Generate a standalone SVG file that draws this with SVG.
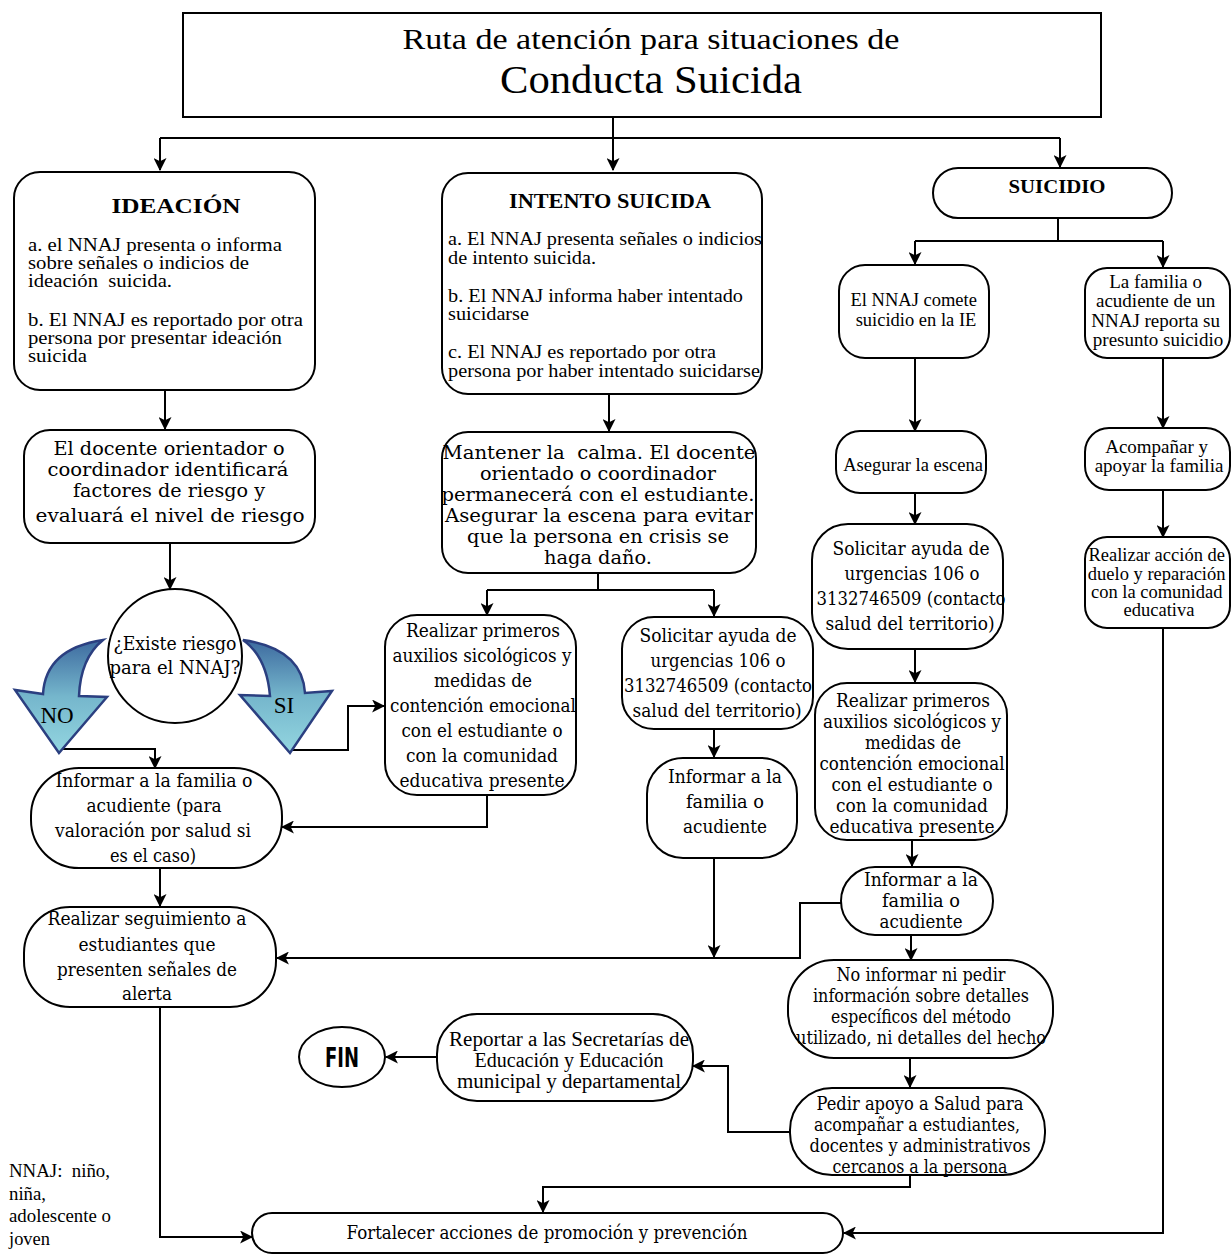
<svg xmlns="http://www.w3.org/2000/svg" width="1231" height="1254" viewBox="0 0 1231 1254">
<style>
.bx{fill:#fff;stroke:#000;stroke-width:2}
.c{fill:none;stroke:#000;stroke-width:2}
.a{marker-end:url(#ah)}
.t{font-family:"Liberation Serif",serif;fill:#000}
.s{font-size:18px}
.d{font-family:"DejaVu Serif","Liberation Serif",serif;fill:#000;font-size:18px}
.m{text-anchor:middle}
.b{font-weight:bold}
</style>
<defs>
<marker id="ah" viewBox="0 0 12 12" refX="11" refY="6" markerWidth="13" markerHeight="13" markerUnits="userSpaceOnUse" orient="auto">
<path d="M0,0 L12,6 L0,12 L3,6 Z" fill="#000"/>
</marker>
<linearGradient id="blue" x1="0" y1="0" x2="0" y2="1">
<stop offset="0" stop-color="#3d6a9f"/>
<stop offset="0.5" stop-color="#75b6cc"/>
<stop offset="1" stop-color="#93d6e0"/>
</linearGradient>
</defs>
<rect width="1231" height="1254" fill="#fff"/>

<g id="connectors">
<path class="c a" d="M613,117 V170"/>
<path class="c" d="M160,138 H1060"/>
<path class="c a" d="M160,138 V170"/>
<path class="c a" d="M1060,138 V167"/>
<path class="c a" d="M165,390 V429"/>
<path class="c a" d="M170,543 V589"/>
<path class="c a" d="M60,749 H155 V768"/>
<path class="c a" d="M290,750 H348 V706 H384"/>
<path class="c a" d="M160,868 V906"/>
<path class="c a" d="M160,1007 V1237 H252"/>
<path class="c a" d="M609,395 V431"/>
<path class="c" d="M598,573 V590 M487,590 H714"/>
<path class="c a" d="M487,590 V615"/>
<path class="c a" d="M714,590 V616"/>
<path class="c a" d="M487,795 V827 H282"/>
<path class="c a" d="M714,729 V757"/>
<path class="c a" d="M714,858 V957"/>
<path class="c a" d="M841,903 H800 V958 H277"/>
<path class="c" d="M1058,218 V241 M915,241 H1163"/>
<path class="c a" d="M915,241 V264"/>
<path class="c a" d="M1163,241 V267"/>
<path class="c a" d="M915,358 V431"/>
<path class="c a" d="M1163,358 V428"/>
<path class="c a" d="M915,493 V524"/>
<path class="c a" d="M1163,490 V537"/>
<path class="c a" d="M1163,628 V1233 H844"/>
<path class="c a" d="M915,649 V682"/>
<path class="c a" d="M912,840 V866"/>
<path class="c a" d="M911,935 V960"/>
<path class="c a" d="M910,1058 V1087"/>
<path class="c a" d="M790,1132 H728 V1066 H693"/>
<path class="c a" d="M910,1175 V1187 H543 V1212"/>
<path class="c a" d="M437,1057 H386"/>
</g>

<g id="title">
<rect class="bx" x="183" y="13" width="918" height="104"/>
<text class="t m" x="651" y="49" font-size="30" textLength="497" lengthAdjust="spacingAndGlyphs">Ruta de atención para situaciones de</text>
<text class="t m" x="651" y="93" font-size="41" textLength="302" lengthAdjust="spacingAndGlyphs">Conducta Suicida</text>
</g>

<g id="ideacion">
<rect class="bx" x="14" y="172" width="301" height="218" rx="26"/>
<text class="t m b" x="176" y="213" font-size="22" textLength="129" lengthAdjust="spacingAndGlyphs">IDEACIÓN</text>
<text class="t s" x="28" y="251" textLength="254" lengthAdjust="spacingAndGlyphs">a. el NNAJ presenta o informa</text>
<text class="t s" x="28" y="269" textLength="221" lengthAdjust="spacingAndGlyphs">sobre señales o indicios de</text>
<text class="t s" x="28" y="287" textLength="144" lengthAdjust="spacingAndGlyphs" xml:space="preserve">ideación  suicida.</text>
<text class="t s" x="28" y="326" textLength="275" lengthAdjust="spacingAndGlyphs">b. El NNAJ es reportado por otra</text>
<text class="t s" x="28" y="344" textLength="254" lengthAdjust="spacingAndGlyphs">persona por presentar ideación</text>
<text class="t s" x="28" y="362" textLength="59" lengthAdjust="spacingAndGlyphs">suicida</text>
</g>

<g id="docente">
<rect class="bx" x="24" y="430" width="291" height="113" rx="26"/>
<text class="d m" x="169" y="455" textLength="231" lengthAdjust="spacingAndGlyphs">El docente orientador o</text>
<text class="d m" x="168" y="476" textLength="241" lengthAdjust="spacingAndGlyphs">coordinador identificará</text>
<text class="d m" x="169" y="497" textLength="192" lengthAdjust="spacingAndGlyphs">factores de riesgo y</text>
<text class="d m" x="170" y="522" textLength="269" lengthAdjust="spacingAndGlyphs">evaluará el nivel de riesgo</text>
</g>

<g id="riesgo">
<circle class="bx" cx="175" cy="656" r="67"/>
<text class="d m" x="175" y="650" textLength="123" lengthAdjust="spacingAndGlyphs">¿Existe riesgo</text>
<text class="d m" x="175" y="674" textLength="131" lengthAdjust="spacingAndGlyphs">para el NNAJ?</text>
</g>

<g id="no">
<path d="M103,640 C70,645 45,660 43,694 L15,690 L59,753 L107,697 L79,696 C80,672 88,652 103,640 Z" fill="url(#blue)" stroke="#2b3f80" stroke-width="2.5"/>
<text class="t m" x="57" y="723" font-size="23">NO</text>
</g>

<g id="si">
<path d="M243,640 C278,645 303,660 305,693 L332,691 L290,753 L240,695 L270,696 C268,672 260,652 243,640 Z" fill="url(#blue)" stroke="#2b3f80" stroke-width="2.5"/>
<text class="t m" x="284" y="713" font-size="23">SI</text>
</g>

<g id="informar-izq">
<rect class="bx" x="31" y="768" width="251" height="100" rx="48"/>
<text class="d m" x="154" y="787" textLength="197" lengthAdjust="spacingAndGlyphs">Informar a la familia o</text>
<text class="d m" x="154" y="812" textLength="135" lengthAdjust="spacingAndGlyphs">acudiente (para</text>
<text class="d m" x="153" y="837" textLength="196" lengthAdjust="spacingAndGlyphs">valoración por salud si</text>
<text class="d m" x="153" y="862" textLength="86" lengthAdjust="spacingAndGlyphs">es el caso)</text>
</g>

<g id="seguimiento">
<rect class="bx" x="24" y="907" width="252" height="100" rx="46"/>
<text class="d m" x="147" y="925" textLength="199" lengthAdjust="spacingAndGlyphs">Realizar seguimiento a</text>
<text class="d m" x="147" y="951" textLength="137" lengthAdjust="spacingAndGlyphs">estudiantes que</text>
<text class="d m" x="147" y="976" textLength="180" lengthAdjust="spacingAndGlyphs">presenten señales de</text>
<text class="d m" x="147" y="1000" textLength="50" lengthAdjust="spacingAndGlyphs">alerta</text>
</g>

<g id="intento">
<rect class="bx" x="442" y="173" width="320" height="221" rx="26"/>
<text class="t m b" x="610" y="208" font-size="20" textLength="202" lengthAdjust="spacingAndGlyphs">INTENTO SUICIDA</text>
<text class="t s" x="448" y="245" textLength="314" lengthAdjust="spacingAndGlyphs">a. El NNAJ presenta señales o indicios</text>
<text class="t s" x="448" y="264" textLength="148" lengthAdjust="spacingAndGlyphs">de intento suicida.</text>
<text class="t s" x="448" y="302" textLength="295" lengthAdjust="spacingAndGlyphs">b. El NNAJ informa haber intentado</text>
<text class="t s" x="448" y="320" textLength="81" lengthAdjust="spacingAndGlyphs">suicidarse</text>
<text class="t s" x="448" y="358" textLength="268" lengthAdjust="spacingAndGlyphs">c. El NNAJ es reportado por otra</text>
<text class="t s" x="448" y="377" textLength="312" lengthAdjust="spacingAndGlyphs">persona por haber intentado suicidarse</text>
</g>

<g id="mantener">
<rect class="bx" x="442" y="432" width="314" height="141" rx="26"/>
<text class="d m" x="599" y="459" textLength="313" lengthAdjust="spacingAndGlyphs" xml:space="preserve">Mantener la  calma. El docente</text>
<text class="d m" x="598" y="480" textLength="236" lengthAdjust="spacingAndGlyphs">orientado o coordinador</text>
<text class="d m" x="598" y="501" textLength="313" lengthAdjust="spacingAndGlyphs">permanecerá con el estudiante.</text>
<text class="d m" x="599" y="522" textLength="308" lengthAdjust="spacingAndGlyphs">Asegurar la escena para evitar</text>
<text class="d m" x="598" y="543" textLength="262" lengthAdjust="spacingAndGlyphs">que la persona en crisis se</text>
<text class="d m" x="598" y="564" textLength="108" lengthAdjust="spacingAndGlyphs">haga daño.</text>
</g>

<g id="auxilios-centro">
<rect class="bx" x="385" y="615" width="191" height="180" rx="32"/>
<text class="d m" x="483" y="637" textLength="154" lengthAdjust="spacingAndGlyphs">Realizar primeros</text>
<text class="d m" x="482" y="662" textLength="179" lengthAdjust="spacingAndGlyphs">auxilios sicológicos y</text>
<text class="d m" x="483" y="687" textLength="98" lengthAdjust="spacingAndGlyphs">medidas de</text>
<text class="d m" x="483" y="712" textLength="186" lengthAdjust="spacingAndGlyphs">contención emocional</text>
<text class="d m" x="482" y="737" textLength="161" lengthAdjust="spacingAndGlyphs">con el estudiante o</text>
<text class="d m" x="482" y="762" textLength="152" lengthAdjust="spacingAndGlyphs">con la comunidad</text>
<text class="d m" x="482" y="787" textLength="165" lengthAdjust="spacingAndGlyphs">educativa presente</text>
</g>

<g id="solicitar-centro">
<rect class="bx" x="622" y="617" width="191" height="112" rx="32"/>
<text class="d m" x="718" y="642" textLength="157" lengthAdjust="spacingAndGlyphs">Solicitar ayuda de</text>
<text class="d m" x="718" y="667" textLength="135" lengthAdjust="spacingAndGlyphs">urgencias 106 o</text>
<text class="d m" x="718" y="692" textLength="188" lengthAdjust="spacingAndGlyphs">3132746509 (contacto</text>
<text class="d m" x="717" y="717" textLength="169" lengthAdjust="spacingAndGlyphs">salud del territorio)</text>
</g>

<g id="informar-centro">
<rect class="bx" x="647" y="758" width="150" height="100" rx="36"/>
<text class="d m" x="725" y="783" textLength="114" lengthAdjust="spacingAndGlyphs">Informar a la</text>
<text class="d m" x="725" y="808" textLength="78" lengthAdjust="spacingAndGlyphs">familia o</text>
<text class="d m" x="725" y="833" textLength="84" lengthAdjust="spacingAndGlyphs">acudiente</text>
</g>

<g id="suicidio">
<rect class="bx" x="933" y="168" width="239" height="50" rx="25"/>
<text class="t m b" x="1057" y="193" font-size="18" textLength="97" lengthAdjust="spacingAndGlyphs">SUICIDIO</text>
</g>

<g id="comete">
<rect class="bx" x="839" y="265" width="150" height="93" rx="26"/>
<text class="t m" font-size="18.5">
<tspan x="916" y="306">El NNAJ comete</tspan>
<tspan x="916" y="326">suicidio en la IE</tspan>
</text>
</g>

<g id="familia-reporta">
<rect class="bx" x="1085" y="268" width="145" height="90" rx="22"/>
<text class="t m" font-size="19">
<tspan x="1158" y="288">La familia o</tspan>
<tspan x="1158" y="307">acudiente de un</tspan>
<tspan x="1158" y="327">NNAJ reporta su</tspan>
<tspan x="1158" y="346">presunto suicidio</tspan>
</text>
</g>

<g id="asegurar">
<rect class="bx" x="836" y="431" width="150" height="62" rx="24"/>
<text class="t m" x="913" y="471" font-size="18.5">Asegurar la escena</text>
</g>

<g id="acompanar">
<rect class="bx" x="1085" y="428" width="145" height="62" rx="24"/>
<text class="t m" font-size="19">
<tspan x="1159" y="453">Acompañar y</tspan>
<tspan x="1159" y="472">apoyar la familia</tspan>
</text>
</g>

<g id="solicitar-der">
<rect class="bx" x="812" y="524" width="191" height="125" rx="36"/>
<text class="d m" x="911" y="555" textLength="157" lengthAdjust="spacingAndGlyphs">Solicitar ayuda de</text>
<text class="d m" x="912" y="580" textLength="135" lengthAdjust="spacingAndGlyphs">urgencias 106 o</text>
<text class="d m" x="911" y="605" textLength="189" lengthAdjust="spacingAndGlyphs">3132746509 (contacto</text>
<text class="d m" x="910" y="630" textLength="169" lengthAdjust="spacingAndGlyphs">salud del territorio)</text>
</g>

<g id="duelo">
<rect class="bx" x="1085" y="537" width="145" height="91" rx="22"/>
<text class="t m" font-size="18.5">
<tspan x="1159" y="561">Realizar acción de</tspan>
<tspan x="1159" y="580">duelo y reparación</tspan>
<tspan x="1159" y="598">con la comunidad</tspan>
<tspan x="1159" y="616">educativa</tspan>
</text>
</g>

<g id="auxilios-der">
<rect class="bx" x="815" y="683" width="192" height="157" rx="32"/>
<text class="d m" x="913" y="707" textLength="154" lengthAdjust="spacingAndGlyphs">Realizar primeros</text>
<text class="d m" x="912" y="728" textLength="178" lengthAdjust="spacingAndGlyphs">auxilios sicológicos y</text>
<text class="d m" x="913" y="749" textLength="96" lengthAdjust="spacingAndGlyphs">medidas de</text>
<text class="d m" x="912" y="770" textLength="185" lengthAdjust="spacingAndGlyphs">contención emocional</text>
<text class="d m" x="912" y="791" textLength="161" lengthAdjust="spacingAndGlyphs">con el estudiante o</text>
<text class="d m" x="912" y="812" textLength="152" lengthAdjust="spacingAndGlyphs">con la comunidad</text>
<text class="d m" x="912" y="833" textLength="165" lengthAdjust="spacingAndGlyphs">educativa presente</text>
</g>

<g id="informar-der">
<rect class="bx" x="841" y="867" width="152" height="68" rx="34"/>
<text class="d m" x="921" y="886" textLength="114" lengthAdjust="spacingAndGlyphs">Informar a la</text>
<text class="d m" x="921" y="907" textLength="78" lengthAdjust="spacingAndGlyphs">familia o</text>
<text class="d m" x="921" y="928" textLength="83" lengthAdjust="spacingAndGlyphs">acudiente</text>
</g>

<g id="no-informar">
<rect class="bx" x="788" y="960" width="265" height="98" rx="46"/>
<text class="d m" x="921" y="981" textLength="169" lengthAdjust="spacingAndGlyphs">No informar ni pedir</text>
<text class="d m" x="921" y="1002" textLength="216" lengthAdjust="spacingAndGlyphs">información sobre detalles</text>
<text class="d m" x="921" y="1023" textLength="180" lengthAdjust="spacingAndGlyphs">específicos del método</text>
<text class="d m" x="921" y="1044" textLength="250" lengthAdjust="spacingAndGlyphs">utilizado, ni detalles del hecho</text>
</g>

<g id="pedir-apoyo">
<rect class="bx" x="790" y="1088" width="255" height="87" rx="42"/>
<text class="d m" x="920" y="1110" textLength="207" lengthAdjust="spacingAndGlyphs">Pedir apoyo a Salud para</text>
<text class="d m" x="917" y="1131" textLength="206" lengthAdjust="spacingAndGlyphs">acompañar a estudiantes,</text>
<text class="d m" x="920" y="1152" textLength="221" lengthAdjust="spacingAndGlyphs">docentes y administrativos</text>
<text class="d m" x="920" y="1173" textLength="175" lengthAdjust="spacingAndGlyphs">cercanos a la persona</text>
</g>

<g id="reportar">
<rect class="bx" x="437" y="1014" width="256" height="87" rx="40"/>
<text class="t m" font-size="20" x="569" y="1046" textLength="240" lengthAdjust="spacingAndGlyphs">Reportar a las Secretarías de</text>
<text class="t m" font-size="20" x="569" y="1067" textLength="189" lengthAdjust="spacingAndGlyphs">Educación y Educación</text>
<text class="t m" font-size="20" x="569" y="1088" textLength="224" lengthAdjust="spacingAndGlyphs">municipal y departamental</text>
</g>

<g id="fin">
<ellipse class="bx" cx="342" cy="1057" rx="43" ry="30"/>
<text x="342" y="1067" font-family="'DejaVu Sans Condensed','Liberation Sans Narrow',sans-serif" font-weight="bold" font-size="27" text-anchor="middle" textLength="34" lengthAdjust="spacingAndGlyphs">FIN</text>
</g>

<g id="fortalecer">
<rect class="bx" x="252" y="1213" width="591" height="40" rx="20"/>
<text class="d m" x="547" y="1239" textLength="401" lengthAdjust="spacingAndGlyphs">Fortalecer acciones de promoción y prevención</text>
</g>

<g id="leyenda">
<text class="t" font-size="19" x="9" y="1177" textLength="101" lengthAdjust="spacingAndGlyphs" xml:space="preserve">NNAJ:  niño,</text>
<text class="t" font-size="19" x="9" y="1200" textLength="37" lengthAdjust="spacingAndGlyphs">niña,</text>
<text class="t" font-size="19" x="9" y="1222" textLength="102" lengthAdjust="spacingAndGlyphs">adolescente o</text>
<text class="t" font-size="19" x="9" y="1245" textLength="41" lengthAdjust="spacingAndGlyphs">joven</text>
</g>
</svg>
